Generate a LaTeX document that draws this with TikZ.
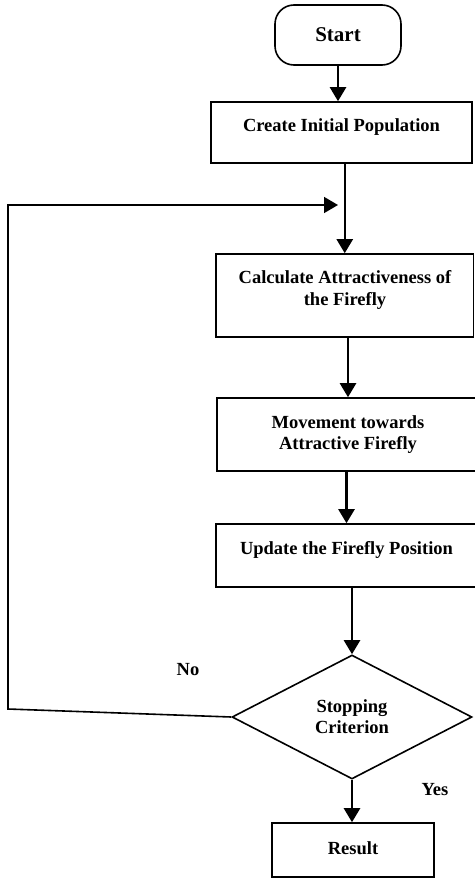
\documentclass[tikz,border=0pt]{standalone}
\usepackage{fontspec}
\setmainfont{Liberation Serif}
\usetikzlibrary{shapes.geometric,arrows.meta,positioning}

\begin{document}
\begin{tikzpicture}[
  x=1bp,
  y=-1bp,
  font=\bfseries\fontsize{18.5bp}{21.5bp}\selectfont,
  stepbox/.style={
    draw,
    line width=1.6bp,
    rectangle,
    inner sep=0pt
    },
  steplabel/.style={
    align=center,
    inner sep=0pt
    },
  flow/.style={line width=2.4bp, -{Triangle[length=14bp,width=16bp]}},
  back/.style={line width=1.6bp, -{Triangle[length=14bp,width=16bp]}}
]
\useasboundingbox (0,0) rectangle (475,878);

\node [stepbox, rounded corners=19bp, minimum width=126bp, minimum height=60bp,
  font=\bfseries\fontsize{21bp}{24bp}\selectfont] (start) at (338,35) {Start};
\node [stepbox, minimum width=261bp, minimum height=61bp] (create) at (341.5,132.5) {};
\node [stepbox, minimum width=257.5bp, minimum height=83bp] (calc) at (344.75,295.5) {};
\node [stepbox, minimum width=262bp, minimum height=73bp] (move) at (348,434.5) {};
\node [stepbox, minimum width=261bp, minimum height=63bp] (update) at (346.5,555.5) {};
\node [stepbox, shape=diamond, minimum width=240bp, minimum height=124bp] (stop) at (352,717) {};
\node [stepbox, minimum width=162bp, minimum height=54bp] (result) at (353,850) {};

\node [steplabel] (createtext) at (341.5,127) {Create Initial Population};
\node [steplabel] (calctext) at (345,290) {Calculate Attractiveness of\\the Firefly};
\node [steplabel] (movetext) at (348,434.5) {Movement towards\\Attractive Firefly};
\node [steplabel] (updatetext) at (346.5,550) {Update the Firefly Position};
\node [steplabel] (stoptext) at (352,716.5) {Stopping\\Criterion};
\node [steplabel] (resulttext) at (353,848) {Result};
\node [steplabel] (no) at (188,670) {No};
\node [steplabel] (yes) at (435,790) {Yes};

\coordinate (corner) at (8,709);
\coordinate (loop) at (338,205);

\draw [flow] (start.south) -- (start.south |- create.north);
\draw [flow] (create.south -| calc.north) -- (calc.north);
\draw [flow] (calc.south -| move.north) -- (move.north);
\draw [flow] (move.south -| update.north) -- (update.north);
\draw [flow] (update.south -| stop.north) -- (stop.north);
\draw [flow] (stop.south) -- (stop.south |- result.north);
\draw [back] (stop.west) -- (corner) |- (loop);

\end{tikzpicture}
\end{document}
